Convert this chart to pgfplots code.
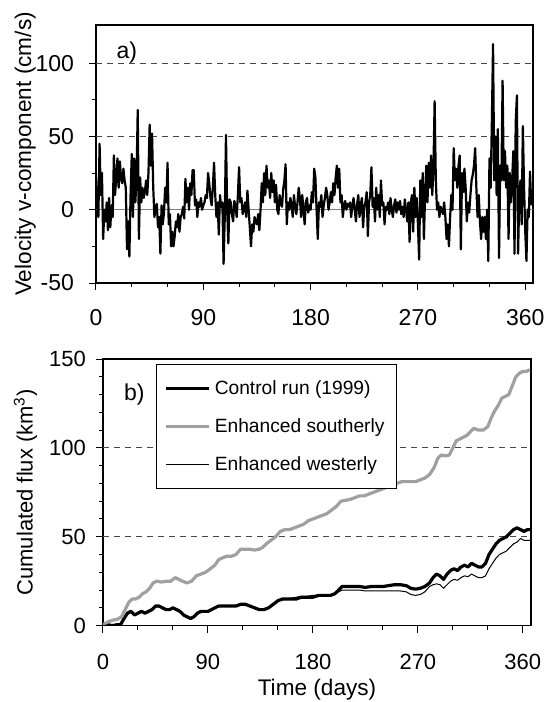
\documentclass[border=0pt]{standalone}
\usepackage{fontspec}
\setmainfont{Liberation Sans}
\usepackage{pgfplots}
\pgfplotsset{compat=1.18}
\usepackage{pgfplotstable}

% daily v-component (cm/s), day 0..366
\pgfplotstableread{
v
22
5
-5
45
10
25
-20
0
-8
5
-14
8
-12
3
-5
37
10
22
35
15
33
22
18
28
20
15
-27
-8
-32
10
38
-5
35
5
22
68
-20
22
5
15
8
12
20
10
25
58
30
52
15
-5
0
4
-12
-5
-30
3
-10
-2
15
5
32
-10
-3
-25
-15
-25
-18
-8
-12
-3
-15
-5
-3
2
-6
21
5
15
0
18
10
27
27
3
7
-5
5
2
8
0
3
5
10
8
25
18
8
3
15
32
10
-5
5
-17
10
2
5
-37
-5
51
0
-23
7
5
-3
-8
6
2
-5
10
29
5
8
-3
0
5
-5
13
0
-12
-25
-10
-15
-5
-8
-10
-3
-14
0
18
5
25
10
30
15
20
8
25
12
20
5
17
0
-3
10
5
2
14
20
31
-10
5
0
8
3
-5
10
2
-3
5
15
8
-5
10
0
-10
5
8
-2
3
0
12
5
28
22
0
-20
5
2
10
-5
3
8
15
10
0
5
12
5
18
10
22
30
15
28
5
10
-5
3
6
0
4
2
5
-5
3
8
0
-8
4
10
-5
3
8
-12
2
5
12
-18
5
10
29
2
8
-8
15
0
10
-5
20
3
5
-10
2
0
5
-3
8
0
-5
3
7
-2
5
0
6
-3
2
-5
7
0
-8
5
-22
5
10
-15
15
-5
8
-10
-34
20
-5
25
-20
10
30
5
32
15
37
10
28
74
20
0
5
-5
2
0
-3
5
-5
-20
-10
-25
-5
10
0
42
20
28
15
30
37
-27
25
12
28
15
-8
5
-2
10
20
24
30
42
15
-5
10
-8
-20
-5
-15
-5
-20
0
-35
35
15
60
113
20
50
10
55
-33
30
20
88
20
40
15
30
-20
25
5
20
40
-30
60
78
-30
10
20
-10
57
15
-15
-35
0
-5
26
3
}\velocity

\pgfplotstableread{
day flux
0 0
4 0.5
8 0
12 0.5
15 0.5
18 4
21 7
24 8
27 6
30 7
33 8
36 7
39 8
42 9
45 11
48 11
51 10
54 9
57 9
60 10
63 9
66 8
69 6
72 5
75 4
78 5
81 7
84 8
87 8
90 8
93 9
96 10
99 11
102 11
106 11
110 11
114 11
118 12
122 12
126 11
130 10
134 9
138 9
142 10
146 12
150 14
154 15
158 15
162 15
166 15
170 16
175 16
180 16
185 17
190 17
195 17
199 18
202 20
205 22
210 22
215 22
220 22
225 21.5
230 22
235 22
240 22
245 22.5
250 23
255 23
260 22.5
264 21
268 20.5
272 21
276 22
280 24
283 27
286 29
289 28
292 26
295 29
298 31
301 32
304 31
307 33
310 34
313 33
316 35
319 34
322 33
325 33
328 35
331 40
334 43
337 46
340 48
343 49
346 50
349 52
352 54
355 55
358 54
361 53
364 54
366 54
}\control

\pgfplotstableread{
day flux
0 0.5
4 2
8 3
12 3.5
16 5
19 9
22 13
25 15
28 15
31 16
34 18
37 19
40 21
43 24
46 25
50 24.5
54 25
58 25
62 27
65 26
68 25
72 24
76 25
80 28
84 29
88 30
92 32
96 34
99 37
102 38
106 39
110 39
114 40
118 43
122 43
126 43
130 42.5
134 43
137 44
140 46
144 48
148 50
152 53
156 54
160 54
164 55
168 56
172 57
176 59
180 60
184 61
188 62
192 63
196 65
200 67
204 70
208 70.5
212 71
216 72
220 73
224 73
228 74
232 75
236 76
240 77
244 78
248 79
252 80
256 81
260 81
264 81
268 81
272 82
276 83
280 85
284 89
287 94
290 96
294 95.5
297 96
300 100
303 104
306 105
309 106
312 107
315 109
318 111
322 110
326 110
330 112
333 117
336 121
339 124
342 128
345 129
348 130
351 135
354 140
357 142
360 143
363 143
366 144
}\southerly

\pgfplotstableread{
day flux
0 0
4 0.3
8 0
12 0.3
15 0.5
18 3.5
21 6.5
24 7.5
27 6
30 7
33 8
36 7
39 8
42 9
45 10.5
48 10.5
51 10
54 9
57 9
60 10
63 9
66 8
69 6
72 5
75 4.5
78 5
81 7
84 8
87 8
90 8.5
93 9
96 10
99 10.5
102 11
106 11
110 11
114 11
118 12
122 12
126 11
130 10
134 9
138 9
142 10
146 12
150 14
154 14.5
158 15
162 15.5
166 16
170 16.5
175 16.5
180 17
185 17
190 17
195 17
199 18
202 19
205 20
210 20
215 20
220 20
225 19.5
230 19.5
235 19.5
240 19.5
245 19.5
250 19.5
255 19.5
260 19
264 17.5
268 17
272 17.5
276 19
280 22
283 23
286 23.5
289 23
292 21
295 23
298 25
301 26
304 25.5
307 27
310 28
313 27.5
316 29
319 28
322 27
325 27
328 28
331 32
334 35
337 38
340 40
343 41
346 42
349 44
352 46
355 47
358 49
361 48
364 48
366 48
}\westerly

\definecolor{lightgray}{RGB}{160,160,160}
\definecolor{refline}{RGB}{70,70,70}

\pgfplotsset{
  panel/.style={
    scale only axis,
    axis line style={line width=0.6pt},
    tick align=outside,
    xtick pos=bottom, ytick pos=left,
    major tick length=3.5pt, minor tick length=2pt,
    tick style={black, line width=0.5pt},
    xtick={0,90,...,360},
    minor xtick={30,60,...,360},
    /pgf/number format/assume math mode=true,
  },
  refl/.style={refline, dash pattern=on 3pt off 2.5pt, line width=0.5pt, forget plot},
}

\begin{document}
\begin{tikzpicture}
\useasboundingbox (0,0) rectangle (273.5pt,-351pt);

% a) velocity
\begin{axis}[panel,
  at={(48pt,-12.5pt)}, anchor=north west,
  width=218.5pt, height=129pt,
  xmin=0, xmax=366.5, ymin=-50, ymax=126,
  ytick={-50,0,50,100}, minor ytick={-25,25,75},
  ticklabel style={font=\fontsize{11.5}{13}\selectfont},
  xticklabel style={yshift=-6pt},
  yticklabel style={xshift=-4pt},
  ylabel={Velocity v-component (cm/s)},
  ylabel style={font=\fontsize{11.3}{13}\selectfont, at={(axis description cs:-0.162,0.5)}, anchor=center},
]
\addplot[refl] coordinates {(0,50) (366.5,50)};
\addplot[refl] coordinates {(0,100) (366.5,100)};
\addplot[gray, line width=0.4pt, forget plot] coordinates {(0,0) (366.5,0)};
\addplot[black, line width=1.1pt, line join=round] table[x expr=\coordindex, y=v] {\velocity};
\node[anchor=west, inner sep=0pt, font=\fontsize{11.5}{13}\selectfont] at (axis cs:17,107) {a)};
\end{axis}

% b) cumulated flux
\begin{axis}[panel,
  at={(51.5pt,-179.5pt)}, anchor=north west,
  width=214pt, height=133.3pt,
  xmin=0, xmax=367, ymin=0, ymax=150,
  ytick={0,50,100,150}, minor ytick={10,20,...,140},
  ticklabel style={font=\fontsize{11}{13}\selectfont},
  xticklabel style={yshift=-7pt},
  yticklabel style={xshift=-1.5pt},
  ylabel={Cumulated flux (km\textsuperscript{3})},
  ylabel style={font=\fontsize{11}{13}\selectfont, at={(axis description cs:-0.181,0.5)}, anchor=center},
  xlabel={Time (days)},
  xlabel style={font=\fontsize{11.3}{13}\selectfont, at={(axis description cs:0.5,0)}, yshift=-32pt, anchor=center},
  legend cell align=left,
  legend style={at={(0.124,0.981)}, anchor=north west, draw=black, line width=0.5pt,
    font=\fontsize{9.6}{11}\selectfont, row sep=6.6pt, inner xsep=4pt, inner ysep=5.8pt},
  legend image code/.code={\draw[#1] (0pt,0pt) -- (21.5pt,0pt);},
]
\addplot[refl] coordinates {(0,50) (367,50)};
\addplot[refl] coordinates {(0,100) (367,100)};
\addplot[black, line width=1.6pt, line join=round] table[x=day, y=flux] {\control};
\addlegendentry{Control run (1999)}
\addplot[lightgray, line width=1.6pt, line join=round] table[x=day, y=flux] {\southerly};
\addlegendentry{Enhanced southerly}
\addplot[black, line width=0.5pt, line join=round] table[x=day, y=flux] {\westerly};
\addlegendentry{Enhanced westerly}
\node[anchor=east, inner sep=0pt, font=\fontsize{11.5}{13}\selectfont] at (axis cs:36,130) {b)};
\end{axis}
\end{tikzpicture}
\end{document}
